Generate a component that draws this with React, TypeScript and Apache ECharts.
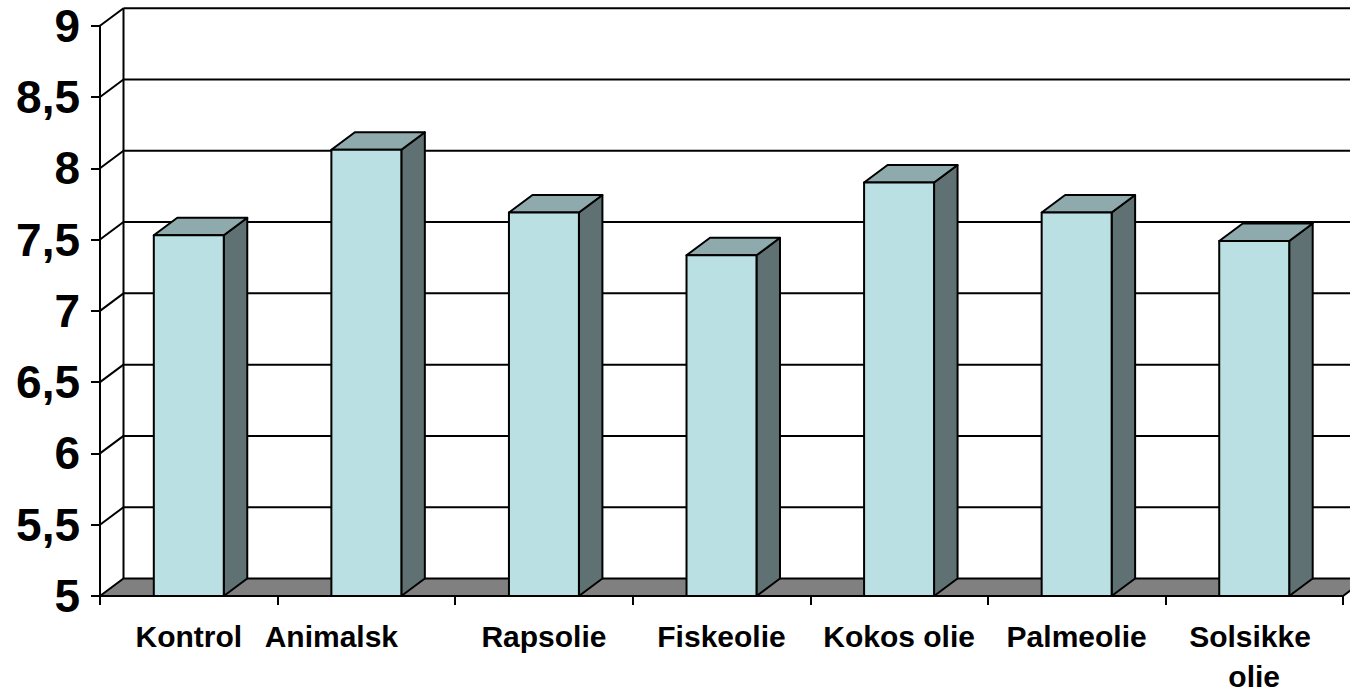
import React, { useEffect, useRef } from "react";
import * as echarts from "echarts";

const categories = ["Kontrol", "Animalsk", "Rapsolie", "Fiskeolie", "Kokos olie", "Palmeolie", "Solsikke olie"];
const values = [7.53, 8.13, 7.69, 7.39, 7.9, 7.69, 7.49];
const yTicks = [5, 5.5, 6, 6.5, 7, 7.5, 8, 8.5, 9];
const yMin = 5;
const yMax = 9;

const DX = 23.5;
const DY = -17.5;
const FONT = "'Liberation Sans', Arial, sans-serif";

export default function App() {
  const ref = useRef<HTMLDivElement>(null);
  useEffect(() => {
    const chart = echarts.init(ref.current!, null, { renderer: "svg" });
    const lineStyle = { stroke: "#000", lineWidth: 2, fill: "none" };
    chart.setOption({
      animation: false,
      backgroundColor: "#fff",
      grid: { left: 100, right: 7, top: 25.7, bottom: 96, containLabel: false, outerBoundsMode: "none" },
      xAxis: {
        type: "category",
        data: categories.map((c, i) =>
          i === 1 ? { value: c, textStyle: { padding: [0, 70, 0, 0] } } : c
        ),
        boundaryGap: true,
        axisLine: { show: true, lineStyle: { color: "#000", width: 2 } },
        axisTick: { show: true, length: 9, lineStyle: { color: "#000", width: 2 } },
        axisLabel: {
          color: "#000",
          fontSize: 30,
          fontWeight: "bold",
          fontFamily: FONT,
          margin: 20,
          lineHeight: 40,
          width: 166,
          overflow: "break",
          interval: 0,
        },
        splitLine: { show: false },
        z: 10,
      },
      yAxis: {
        type: "value",
        min: yMin,
        max: yMax,
        interval: 0.5,
        axisLine: { show: true, lineStyle: { color: "#000", width: 2 } },
        axisTick: { show: true, length: 9, lineStyle: { color: "#000", width: 2 } },
        axisLabel: {
          color: "#000",
          fontSize: 46,
          fontWeight: "bold",
          fontFamily: FONT,
          margin: 20,
          formatter: (v: number) => String(v).replace(".", ","),
        },
        splitLine: { show: false },
        z: 10,
      },
      series: [
        {
          type: "custom",
          name: "wall",
          data: yTicks.map((v) => [0, v]),
          encode: { x: 0, y: 1 },
          silent: true,
          z: 1,
          renderItem: (params: any, api: any) => {
            const cs = params.coordSys;
            const x0 = cs.x;
            const x1 = cs.x + cs.width;
            const v = api.value(1);
            const y = api.coord([0, v])[1];
            const children: any[] = [];
            if (v === yMin) {
              const yTop = api.coord([0, yMax])[1];
              children.push({
                type: "line",
                shape: { x1: x0 + DX, y1: yTop + DY, x2: x0 + DX, y2: y + DY },
                style: lineStyle,
              });
              children.push({
                type: "polygon",
                shape: {
                  points: [
                    [x0, y],
                    [x1, y],
                    [x1 + DX, y + DY],
                    [x0 + DX, y + DY],
                  ],
                },
                style: { fill: "#808080", stroke: "#000", lineWidth: 2 },
              });
            } else {
              children.push({
                type: "line",
                shape: { x1: x0, y1: y, x2: x0 + DX, y2: y + DY },
                style: lineStyle,
              });
              children.push({
                type: "line",
                shape: { x1: x0 + DX, y1: y + DY, x2: x1 + DX + 40, y2: y + DY },
                style: lineStyle,
              });
            }
            return { type: "group", children };
          },
        },
        {
          type: "custom",
          name: "bars",
          data: values.map((v, i) => [i, v]),
          encode: { x: 0, y: 1 },
          z: 5,
          renderItem: (params: any, api: any) => {
            const idx = api.value(0);
            const val = api.value(1);
            const [cx, cy] = api.coord([idx, val]);
            const base = api.coord([idx, yMin])[1];
            const bw = api.size([1, 0])[0] * 0.394;
            const L = cx - bw / 2;
            const R = cx + bw / 2;
            const st = { stroke: "#000", lineWidth: 2, lineJoin: "round" };
            return {
              type: "group",
              children: [
                {
                  type: "polygon",
                  shape: {
                    points: [
                      [R, cy],
                      [R + DX, cy + DY],
                      [R + DX, base + DY],
                      [R, base],
                    ],
                  },
                  style: { ...st, fill: "#5F7173" },
                },
                {
                  type: "polygon",
                  shape: {
                    points: [
                      [L, cy],
                      [R, cy],
                      [R + DX, cy + DY],
                      [L + DX, cy + DY],
                    ],
                  },
                  style: { ...st, fill: "#8FAAAC" },
                },
                {
                  type: "rect",
                  shape: { x: L, y: cy, width: bw, height: base - cy },
                  style: { ...st, fill: "#BBE0E3" },
                },
              ],
            };
          },
        },
      ],
    });
    return () => chart.dispose();
  }, []);
  return (
    <div
      ref={ref}
      style={{ position: "absolute", left: 0, top: 0, width: 1350, height: 692 }}
    />
  );
}
